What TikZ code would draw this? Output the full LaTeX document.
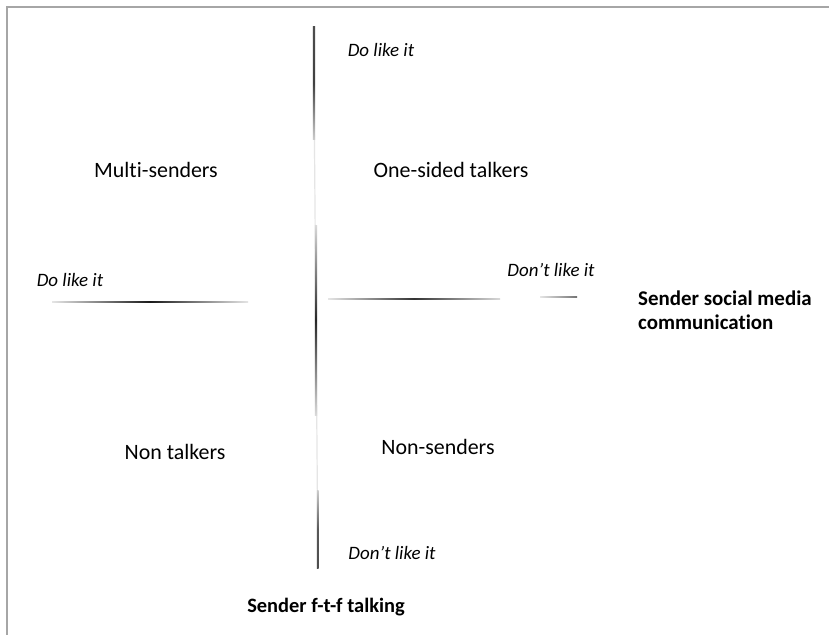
\documentclass[tikz,border=0pt]{standalone}
\usepackage{fontspec}
\setmainfont[Ligatures={NoCommon}]{Carlito}
\begin{document}
\begin{tikzpicture}[x=1bp,y=-1bp,
  quad/.style={font=\fontsize{22}{24}\selectfont, inner sep=0pt, anchor=center},
  pole/.style={font=\fontsize{19}{21}\selectfont\itshape, inner sep=0pt, anchor=center},
  axislabel/.style={font=\fontsize{21}{24}\selectfont\bfseries, inner sep=0pt, align=left},
  frameline/.style={draw=black!35, line width=2bp}]
  \useasboundingbox (0,0) rectangle (829,635);
  \fill[white] (0,0) rectangle (829,635);

  % page frame (top and left edges)
  \coordinate (fTL) at (7,7);
  \coordinate (fTR) at (829,7);
  \coordinate (fBL) at (7,635);
  \draw[frameline] (fTR) -- (fTL) -- (fBL);

  % vertical axis: f-t-f talking, faded segments
  \coordinate (vA) at (313.5,27);
  \coordinate (vB) at (314.5,140);
  \coordinate (vC) at (315.5,225);
  \coordinate (vD) at (316.5,415);
  \coordinate (vE) at (317.5,490);
  \coordinate (vF) at (318,568);
  \draw[black!10, line width=1.2bp] (vA) -- (vF);
  \shade[top color=black!70, bottom color=black!20, middle color=black!75]
    ([xshift=-0.7bp]vA) rectangle ([xshift=0.7bp]vB);
  \shade[top color=black!15, bottom color=black!15, middle color=black!85]
    ([xshift=-0.7bp]vC) rectangle ([xshift=0.7bp]vD);
  \shade[top color=black!20, bottom color=black!70, middle color=black!65]
    ([xshift=-0.7bp]vE) rectangle ([xshift=0.7bp]vF);

  % horizontal axis: social media communication
  \coordinate (hL1) at (52,302);
  \coordinate (hL2) at (248,302);
  \coordinate (hR1) at (328,299);
  \coordinate (hR2) at (500,299);
  \coordinate (hR3) at (540,297);
  \coordinate (hR4) at (577,297);
  \shade[left color=black!10, right color=black!10, middle color=black!90]
    ([yshift=-0.8bp]hL1) rectangle ([yshift=0.8bp]hL2);
  \shade[left color=black!10, right color=black!15, middle color=black!80]
    ([yshift=-0.8bp]hR1) rectangle ([yshift=0.8bp]hR2);
  \shade[left color=black!10, right color=black!55]
    ([yshift=-0.8bp]hR3) rectangle ([yshift=0.8bp]hR4);

  % quadrant names
  \node[quad] (multi) at (156,170) {Multi-senders};
  \node[quad] (onesided) at (451,170) {One-sided talkers};
  \node[quad] (nontalk) at (175,452) {Non talkers};
  \node[quad] (nonsend) at (438,447) {Non-senders};

  % axis poles
  \node[pole] (topdo) at (381,50) {Do like it};
  \node[pole] (leftdo) at (70,280) {Do like it};
  \node[pole] (rightdont) at (551,270) {Don't like it};
  \node[pole] (botdont) at (392,553) {Don't like it};

  % axis titles
  \node[axislabel, anchor=north west] (smc) at (638,291) {Sender social media\\communication};
  \node[axislabel, font=\fontsize{20.5}{22}\selectfont\bfseries] (ftf) at (326,607) {Sender f-t-f talking};
\end{tikzpicture}
\end{document}
